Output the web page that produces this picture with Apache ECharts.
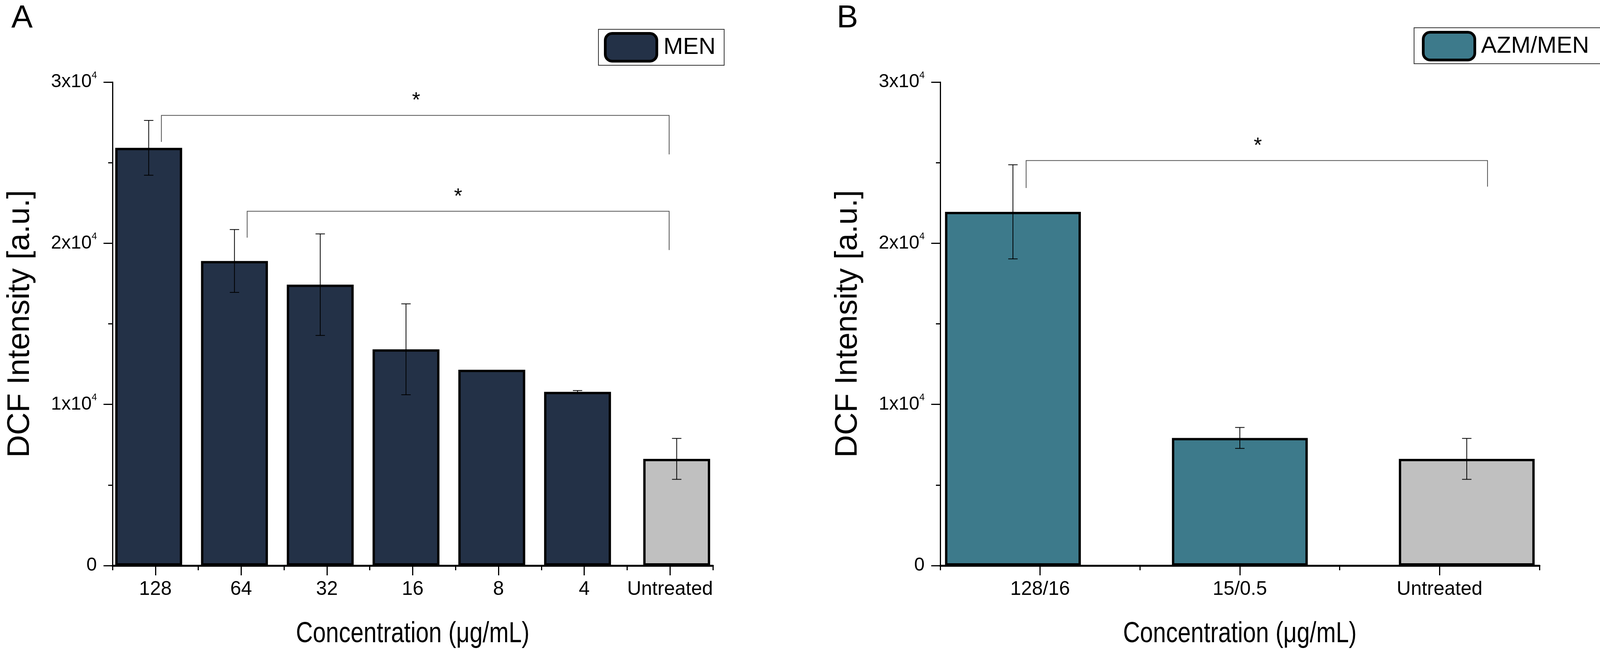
<!DOCTYPE html>
<html>
<head>
<meta charset="utf-8">
<script src="https://cdn.jsdelivr.net/npm/echarts@6/dist/echarts.min.js"></script>
<style>
html, body { margin: 0; padding: 0; background: #fff; }
#main { width: 4112px; height: 1663px; }
</style>
</head>
<body>
<div id="main"></div>
<script>
// panel A : MEN alone
var catsA = ['128', '64', '32', '16', '8', '4', 'Untreated'];
var menVals = [25920, 18900, 17430, 13420, 12150, 10780];
var menErr = [1700, 1950, 3150, 2820, 0, 80];
var untreatedVal = 6620;
var untreatedErr = 1270;

// panel B : AZM/MEN combination
var catsB = ['128/16', '15/0.5', 'Untreated'];
var azmVals = [21950, 7920];
var azmErr = [2920, 650];

// y ticks (x10^4)
var yTicks = [0, 10000, 20000, 30000];

// significance brackets: [from, to, top, fromEnd, toEnd] (category units / values)
var bracketsA = [[0.07, 5.99, 27930, 26290, 25515], [1.07, 5.99, 21985, 20350, 19575]];
var starsA = [[3.04, 29060], [3.53, 23090]];
var bracketsB = [[-0.07, 2.24, 25130, 23430, 23510]];
var starsB = [[1.09, 26240]];

var SANS = "'Liberation Sans', Arial, sans-serif";
var xTitle = 'Concentration (\u03bcg/mL)';

var myChart = echarts.init(document.getElementById('main'), null, {renderer: 'canvas'});

var grids = [
    {left: 288, top: 210, width: 1537, height: 1237},
    {left: 2407, top: 210, width: 1534, height: 1237}
];

// centre of bar i of n grouped bars (category units)
function barShift(i, n, w, g) {
    var total = n * w + (n - 1) * g * w;
    return -total / 2 + i * (w + g * w) + w / 2;
}

function yAxisOf(g) {
    return {
        type: 'value', gridIndex: g, min: yTicks[0], max: yTicks[yTicks.length - 1], interval: 10000,
        axisLine: {show: true, onZero: false, lineStyle: {color: '#000', width: 3}},
        axisTick: {show: true, inside: false, length: 23, lineStyle: {color: '#000', width: 3}},
        minorTick: {show: true, splitNumber: 2, length: 11, lineStyle: {color: '#000', width: 3}},
        splitLine: {show: false},
        axisLabel: {
            margin: 40,
            formatter: function (v) {
                return v === 0 ? '{b|0}' : '{b|' + (v / 10000) + 'x10}{s|4}';
            },
            rich: {
                b: {fontSize: 48, lineHeight: 58, fontFamily: SANS, color: '#000'},
                s: {fontSize: 24, lineHeight: 24, verticalAlign: 'top', fontFamily: SANS, color: '#000'}
            }
        },
        name: 'DCF Intensity [a.u.]', nameLocation: 'middle', nameGap: 196,
        nameTextStyle: {fontSize: 80, fontFamily: SANS, color: '#000'}
    };
}

function catAxisOf(g, cats) {
    return {
        type: 'category', gridIndex: g, data: cats,
        axisLine: {show: true, onZero: false, lineStyle: {color: '#000', width: 5}},
        axisTick: {show: true, alignWithLabel: true, length: 25, lineStyle: {color: '#000', width: 3}},
        axisLabel: {margin: 36, interval: 0, fontSize: 50, fontFamily: SANS, color: '#000'}
    };
}

// short ticks between categories
function boundAxisOf(g, cats) {
    return {
        type: 'category', gridIndex: g, data: cats, position: 'bottom',
        axisLine: {show: false, onZero: false},
        axisTick: {show: true, length: 12, lineStyle: {color: '#000', width: 3}},
        axisLabel: {show: false}
    };
}

// hidden linear axis used for error bars, brackets and stars
function overlayAxisOf(g, n) {
    return {type: 'value', gridIndex: g, min: -0.5, max: n - 0.5, show: false, axisLine: {onZero: false}};
}

function renderErr(params, api) {
    var x = api.value(0), v = api.value(1), e = api.value(2);
    if (!e) return;
    var hi = api.coord([x, v + e]);
    var lo = api.coord([x, v - e]);
    var c = 12;
    var st = {stroke: '#000', lineWidth: 2};
    return {
        type: 'group',
        children: [
            {type: 'line', shape: {x1: hi[0], y1: hi[1], x2: lo[0], y2: lo[1]}, style: st},
            {type: 'line', shape: {x1: hi[0] - c, y1: hi[1], x2: hi[0] + c, y2: hi[1]}, style: st},
            {type: 'line', shape: {x1: lo[0] - c, y1: lo[1], x2: lo[0] + c, y2: lo[1]}, style: st}
        ]
    };
}

function renderBracket(params, api) {
    var a = api.coord([api.value(0), api.value(3)]);
    var b = api.coord([api.value(0), api.value(2)]);
    var c = api.coord([api.value(1), api.value(2)]);
    var d = api.coord([api.value(1), api.value(4)]);
    return {
        type: 'polyline',
        shape: {points: [a, b, c, d]},
        style: {stroke: '#555', lineWidth: 2, fill: null}
    };
}

function renderStar(params, api) {
    var p = api.coord([api.value(0), api.value(1)]);
    return {
        type: 'text',
        style: {text: '*', x: p[0], y: p[1] + 9, fill: '#000', font: '54px ' + SANS, align: 'center', verticalAlign: 'middle'}
    };
}

var errA = menVals.map(function (v, i) { return [i + barShift(0, 2, 0.78, -0.8), v, menErr[i]]; });
errA.push([6 + barShift(1, 2, 0.78, -0.8), untreatedVal, untreatedErr]);
var errB = azmVals.map(function (v, i) { return [i + barShift(i, 3, 0.68, -0.8), v, azmErr[i]]; });
errB.push([2 + barShift(2, 3, 0.68, -0.8), untreatedVal, untreatedErr]);

var barBorder = {borderColor: '#000', borderWidth: 6};

// x titles drawn condensed, centred under each grid
function xTitleOf(gr) {
    return {
        type: 'text', x: gr.left + gr.width / 2, y: 1622, scaleX: 0.8,
        style: {text: xTitle, font: '75px ' + SANS, fill: '#000', align: 'center', verticalAlign: 'middle'}
    };
}

var option = {
    backgroundColor: '#fff',
    animation: false,
    grid: grids,
    xAxis: [
        catAxisOf(0, catsA), boundAxisOf(0, catsA), overlayAxisOf(0, catsA.length),
        catAxisOf(1, catsB), boundAxisOf(1, catsB), overlayAxisOf(1, catsB.length)
    ],
    yAxis: [yAxisOf(0), yAxisOf(1)],
    legend: [
        {
            data: ['MEN'], left: 1532, top: 75, padding: [7, 22, 7, 14],
            borderColor: '#333', borderWidth: 2,
            itemWidth: 132, itemHeight: 71, icon: 'roundRect',
            itemStyle: {borderColor: '#000', borderWidth: 7},
            textStyle: {fontSize: 60, fontFamily: SANS, color: '#000', padding: [0, 0, 0, 12]}
        },
        {
            data: ['AZM/MEN'], left: 3620, top: 71, padding: [8, 30, 6, 20],
            borderColor: '#333', borderWidth: 2,
            itemWidth: 132, itemHeight: 71, icon: 'roundRect',
            itemStyle: {borderColor: '#000', borderWidth: 7},
            textStyle: {fontSize: 60, fontFamily: SANS, color: '#000', padding: [0, 0, 0, 11]}
        }
    ],
    graphic: [
        {type: 'text', left: 29, top: 6, style: {text: 'A', font: '82px ' + SANS, fill: '#000'}},
        {type: 'text', left: 2142, top: 6, style: {text: 'B', font: '82px ' + SANS, fill: '#000'}},
        xTitleOf(grids[0]),
        xTitleOf(grids[1])
    ],
    series: [
        {
            name: 'MEN', type: 'bar', xAxisIndex: 0, yAxisIndex: 0,
            barWidth: '78%', barGap: '-80%',
            itemStyle: Object.assign({color: '#233147'}, barBorder),
            data: menVals.concat(['-'])
        },
        {
            name: 'Untreated', type: 'bar', xAxisIndex: 0, yAxisIndex: 0,
            barWidth: '78%', barGap: '-80%',
            itemStyle: Object.assign({color: '#c0c0c0'}, barBorder),
            data: ['-', '-', '-', '-', '-', '-', untreatedVal]
        },
        {type: 'custom', xAxisIndex: 2, yAxisIndex: 0, renderItem: renderErr, data: errA, z: 5},
        {type: 'custom', xAxisIndex: 2, yAxisIndex: 0, renderItem: renderBracket, data: bracketsA, z: 5},
        {type: 'custom', xAxisIndex: 2, yAxisIndex: 0, renderItem: renderStar, data: starsA, z: 5},
        {
            name: 'AZM/MEN', type: 'bar', xAxisIndex: 3, yAxisIndex: 1,
            barWidth: '68%', barGap: '-80%',
            itemStyle: Object.assign({color: '#3d7a8b'}, barBorder),
            data: [azmVals[0], '-', '-']
        },
        {
            name: 'AZM/MEN', type: 'bar', xAxisIndex: 3, yAxisIndex: 1,
            barWidth: '68%', barGap: '-80%',
            itemStyle: Object.assign({color: '#3d7a8b'}, barBorder),
            data: ['-', azmVals[1], '-']
        },
        {
            name: 'Untreated', type: 'bar', xAxisIndex: 3, yAxisIndex: 1,
            barWidth: '68%', barGap: '-80%',
            itemStyle: Object.assign({color: '#c0c0c0'}, barBorder),
            data: ['-', '-', untreatedVal]
        },
        {type: 'custom', xAxisIndex: 5, yAxisIndex: 1, renderItem: renderErr, data: errB, z: 5},
        {type: 'custom', xAxisIndex: 5, yAxisIndex: 1, renderItem: renderBracket, data: bracketsB, z: 5},
        {type: 'custom', xAxisIndex: 5, yAxisIndex: 1, renderItem: renderStar, data: starsB, z: 5}
    ]
};

myChart.setOption(option);
window.onresize = myChart.resize;
</script>
</body>
</html>
